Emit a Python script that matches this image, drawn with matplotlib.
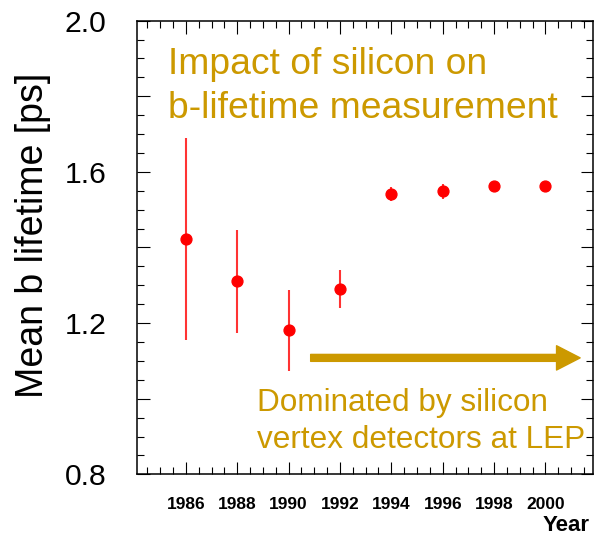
import matplotlib
matplotlib.use("Agg")
import matplotlib.pyplot as plt
from matplotlib.ticker import MultipleLocator, FuncFormatter

plt.rcParams["font.family"] = ["Liberation Sans", "DejaVu Sans"]

# mean b-hadron lifetime world averages
years = [1986, 1988, 1990, 1992, 1994, 1996, 1998, 2000]
lifetime = [1.422, 1.311, 1.181, 1.291, 1.542, 1.549, 1.563, 1.563]
lifetime_err = [0.268, 0.136, 0.107, 0.050, 0.019, 0.020, 0.005, 0.005]

x_ticks = [1986, 1988, 1990, 1992, 1994, 1996, 1998, 2000]
gold = "#CC9900"

W, H = 594, 535
fig = plt.figure(figsize=(W / 100, H / 100), dpi=100)
ax = fig.add_axes([137 / W, 1 - 474.3 / H, (593 - 137) / W, (474.3 - 20.7) / H])

ax.errorbar(years, lifetime, yerr=lifetime_err, fmt="o", color="red",
            ecolor="#ff3333", elinewidth=1.5, markersize=7.8, capsize=0, zorder=3)

ax.set_xlim(1984.1, 2001.85)
ax.set_ylim(0.8, 2.0)

ax.xaxis.set_major_locator(MultipleLocator(2))
ax.xaxis.set_minor_locator(MultipleLocator(0.5))
ax.set_xticks(x_ticks)
ax.set_xticklabels([str(y) for y in x_ticks], fontsize=12.5, fontweight="bold")
ax.yaxis.set_major_locator(MultipleLocator(0.2))
ax.yaxis.set_minor_locator(MultipleLocator(0.05))
ax.yaxis.set_major_formatter(FuncFormatter(
    lambda v, p: "%.1f" % v if abs(v / 0.4 - round(v / 0.4)) < 1e-6 else ""))

ax.tick_params(which="both", direction="in", top=True, right=True, width=0.8)
ax.tick_params(which="major", length=9)
ax.tick_params(which="minor", length=5)
ax.tick_params(axis="y", labelsize=21.7, pad=22)
ax.tick_params(axis="x", pad=16)
for s in ax.spines.values():
    s.set_linewidth(1.1)

# arrow: silicon vertex era at LEP
ax.annotate("", xy=(2001.35, 1.108), xytext=(1990.86, 1.108),
            arrowprops=dict(width=5, headwidth=17.5, headlength=17, color=gold,
                            shrink=0), zorder=4)

fig.text(43 / W, 1 - 235 / H, "Mean b lifetime [ps]", rotation=90,
         rotation_mode="anchor", ha="center", va="baseline", fontsize=27)
fig.text(590 / W, 1 - 531 / H, "Year", fontsize=16, fontweight="bold",
         va="baseline", ha="right")

fig.text(168.3 / W, 1 - 74 / H, "Impact of silicon on", color=gold,
         fontsize=26.8, va="baseline")
fig.text(168.3 / W, 1 - 118.3 / H, "b-lifetime measurement", color=gold,
         fontsize=26.8, va="baseline")
fig.text(256.7 / W, 1 - 410.7 / H, "Dominated by silicon", color=gold,
         fontsize=22.7, va="baseline")
fig.text(256.7 / W, 1 - 448 / H, "vertex detectors at LEP", color=gold,
         fontsize=22.7, va="baseline")

fig.savefig("out.png", dpi=100)
